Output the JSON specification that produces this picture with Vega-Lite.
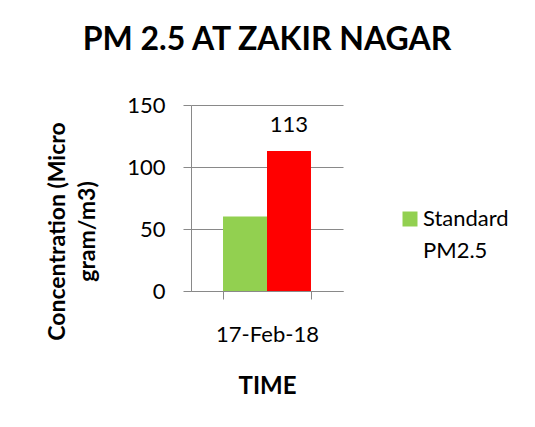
{
  "$schema": "https://vega.github.io/schema/vega-lite/v6.json",
  "width": 152,
  "height": 186,
  "autosize": {"type": "none"},
  "padding": {"left": 191, "top": 105, "right": 192, "bottom": 136},
  "background": "white",
  "config": {
    "view": {"stroke": null},
    "font": "Lato",
    "style": {"guide-label": {"lineHeight": 32}}
  },
  "title": {
    "text": "PM 2.5 AT ZAKIR NAGAR",
    "fontSize": 32,
    "fontWeight": "bold",
    "font": "Lato",
    "color": "black",
    "anchor": "middle",
    "offset": 37
  },
  "data": {
    "values": [
      {"date": "17-Feb-18", "series": "Standard PM2.5", "value": 60},
      {"date": "17-Feb-18", "series": "Observed PM2.5", "value": 113}
    ]
  },
  "encoding": {
    "x": {
      "field": "date",
      "type": "nominal",
      "scale": {"paddingInner": 0, "paddingOuter": 0.364},
      "axis": {
        "title": "TIME",
        "labelAngle": 0,
        "tickBand": "extent",
        "tickSize": 8,
        "tickColor": "#898989",
        "domainColor": "#898989",
        "labelFontSize": 22,
        "labelColor": "black",
        "labelPadding": 25,
        "titleFontSize": 24,
        "titleFontWeight": "bold",
        "titleColor": "black",
        "titlePadding": 29
      }
    },
    "y": {
      "field": "value",
      "type": "quantitative",
      "scale": {"domain": [0, 150]},
      "axis": {
        "values": [0, 50, 100, 150],
        "title": ["Concentration (Micro", "gram/m3)"],
        "grid": true,
        "gridColor": "#898989",
        "domainColor": "#898989",
        "tickColor": "#898989",
        "tickSize": 8,
        "labelFontSize": 22,
        "labelColor": "black",
        "labelPadding": 18,
        "titleFontSize": 23,
        "titleFontWeight": "bold",
        "titleColor": "black",
        "titleLineHeight": 30,
        "titleAngle": -90,
        "titleAlign": "center",
        "titleBaseline": "middle",
        "titleX": -134,
        "titleY": 126
      }
    }
  },
  "layer": [
    {
      "mark": {"type": "bar"},
      "encoding": {
        "xOffset": {"field": "series", "type": "nominal", "sort": ["Standard PM2.5", "Observed PM2.5"], "scale": {"paddingInner": 0, "paddingOuter": 0}},
        "color": {
          "field": "series",
          "type": "nominal",
          "scale": {"domain": ["Standard PM2.5", "Observed PM2.5"], "range": ["#92D050", "#FF0000"]},
          "legend": {
            "values": ["Standard PM2.5"],
            "labelExpr": "split(datum.label, ' ')",
            "orient": "none",
            "legendX": 208,
            "legendY": 103,
            "title": null,
            "symbolType": "square",
            "symbolSize": 225,
            "symbolStrokeWidth": 0,
            "symbolOpacity": 1,
            "labelFontSize": 22,
            "labelColor": "black",
            "labelOffset": 2
          }
        }
      }
    },
    {
      "transform": [{"filter": "datum.series === 'Observed PM2.5'"}],
      "mark": {"type": "text", "fontSize": 22, "color": "black", "dy": -26},
      "encoding": {
        "xOffset": {"field": "series", "type": "nominal", "sort": ["Standard PM2.5", "Observed PM2.5"], "scale": {"paddingInner": 0, "paddingOuter": 0}},
        "text": {"field": "value", "type": "quantitative"}
      }
    }
  ]
}
